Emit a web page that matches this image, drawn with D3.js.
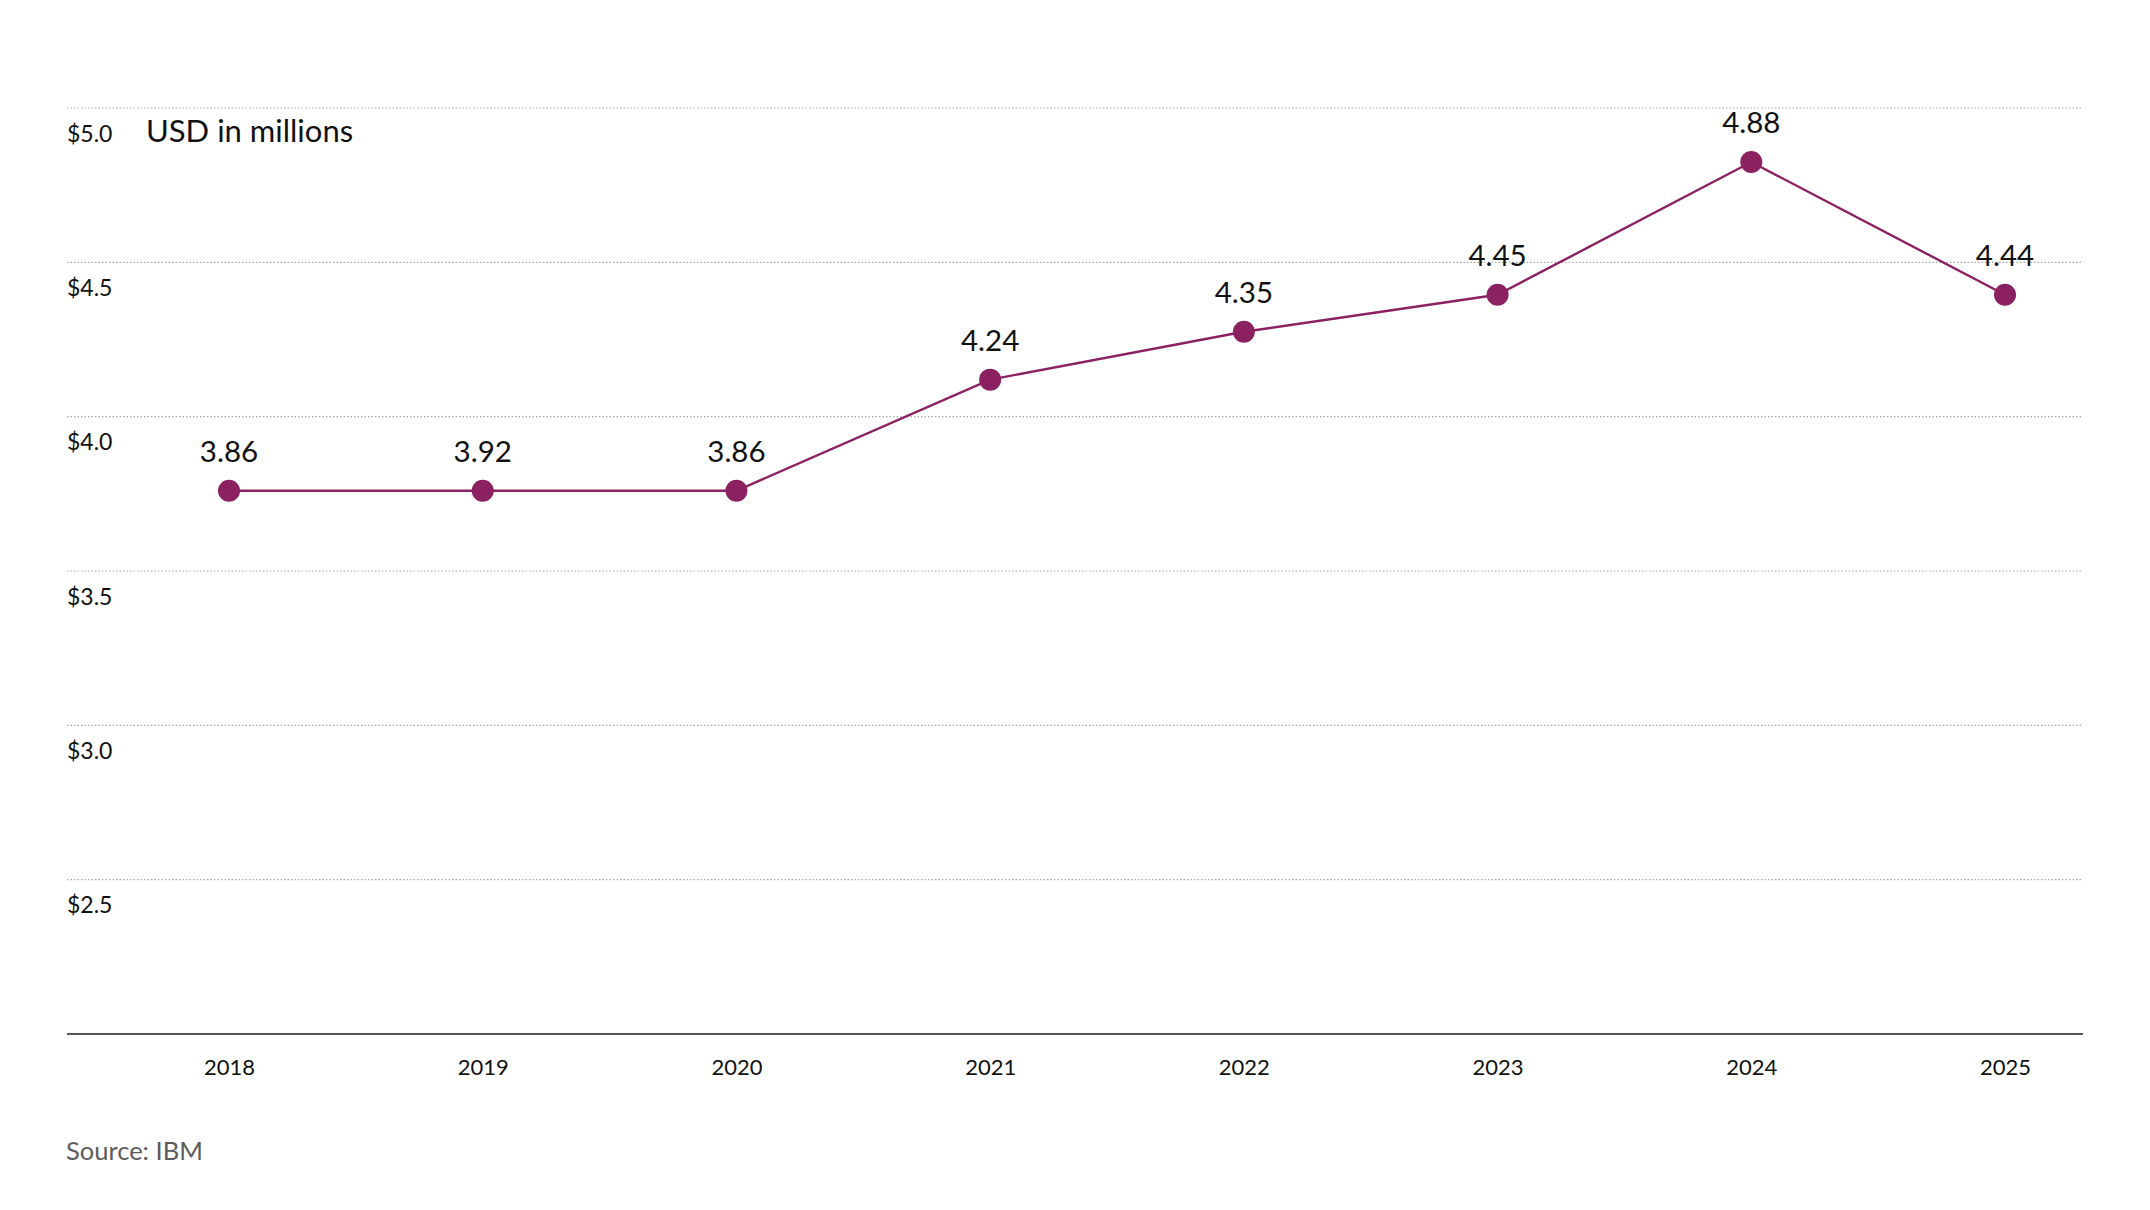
<!DOCTYPE html>
<html>
<head>
<meta charset="utf-8">
<script src="https://cdn.jsdelivr.net/npm/d3@7"></script>
<style>
  html, body { margin: 0; padding: 0; background: #fff; }
  svg { display: block; font-family: Lato, "Open Sans", sans-serif; }
</style>
</head>
<body>
<svg id="chart" width="2150" height="1210"></svg>
<script>
// years on the x axis
var years = ["2018", "2019", "2020", "2021", "2022", "2023", "2024", "2025"];
// values as plotted by the marks
var values = [3.76, 3.76, 3.76, 4.12, 4.275, 4.395, 4.825, 4.395];
// numbers printed above each point
var valueLabels = ["3.86", "3.92", "3.86", "4.24", "4.35", "4.45", "4.88", "4.44"];
// y axis ticks
var yTicks = [2.5, 3.0, 3.5, 4.0, 4.5, 5.0];
var unitLabel = "USD in millions";
var sourceLabel = "Source: IBM";

var purple = "#8b2160";
var svg = d3.select("#chart");

var plotLeft = 67, plotRight = 2083, plotTop = 108, plotBottom = 1034;

var x = d3.scalePoint().domain(years).range([229, 2005]);
var y = d3.scaleLinear().domain([2.0, 5.0]).range([plotBottom, plotTop]);

// dotted gridlines
svg.append("g").selectAll("line")
  .data(yTicks)
  .enter().append("line")
  .attr("x1", plotLeft).attr("x2", plotRight)
  .attr("y1", function(d) { return y(d); })
  .attr("y2", function(d) { return y(d); })
  .attr("stroke", "#a8a8a8")
  .attr("stroke-width", 1.2)
  .attr("stroke-dasharray", "1.5,2");

// tick labels sit under their gridline
svg.append("g").selectAll("text")
  .data(yTicks)
  .enter().append("text")
  .attr("x", plotLeft)
  .attr("y", function(d) { return y(d) + 33.5; })
  .attr("font-size", 23)
  .attr("fill", "#111")
  .text(function(d) { return "$" + d3.format(".1f")(d); });

svg.append("text")
  .attr("x", 146).attr("y", 141.5)
  .attr("font-size", 31)
  .attr("fill", "#111")
  .text(unitLabel);

// baseline
svg.append("line")
  .attr("x1", plotLeft).attr("x2", plotRight)
  .attr("y1", plotBottom).attr("y2", plotBottom)
  .attr("stroke", "#555")
  .attr("stroke-width", 1.8);

// x axis labels
var xAxis = d3.axisBottom(x).tickSize(0).tickPadding(0);
var gx = svg.append("g")
  .attr("transform", "translate(0," + plotBottom + ")")
  .call(xAxis);
gx.select(".domain").remove();
gx.selectAll("text")
  .attr("dy", null)
  .attr("y", 41)
  .attr("font-family", "Lato, sans-serif")
  .attr("font-size", 22)
  .attr("fill", "#111");

// line
var line = d3.line()
  .x(function(d, i) { return x(years[i]); })
  .y(function(d) { return y(d); });

svg.append("path")
  .datum(values)
  .attr("d", line)
  .attr("fill", "none")
  .attr("stroke", purple)
  .attr("stroke-width", 2.4);

svg.append("g").selectAll("circle")
  .data(values)
  .enter().append("circle")
  .attr("cx", function(d, i) { return x(years[i]); })
  .attr("cy", function(d) { return y(d); })
  .attr("r", 11)
  .attr("fill", purple);

svg.append("g").selectAll("text")
  .data(values)
  .enter().append("text")
  .attr("x", function(d, i) { return x(years[i]); })
  .attr("y", function(d) { return y(d) - 29; })
  .attr("text-anchor", "middle")
  .attr("font-size", 29.5)
  .attr("fill", "#111")
  .text(function(d, i) { return valueLabels[i]; });

svg.append("text")
  .attr("x", 66).attr("y", 1160)
  .attr("font-size", 25.5)
  .attr("fill", "#5c5c5c")
  .text(sourceLabel);
</script>
</body>
</html>
